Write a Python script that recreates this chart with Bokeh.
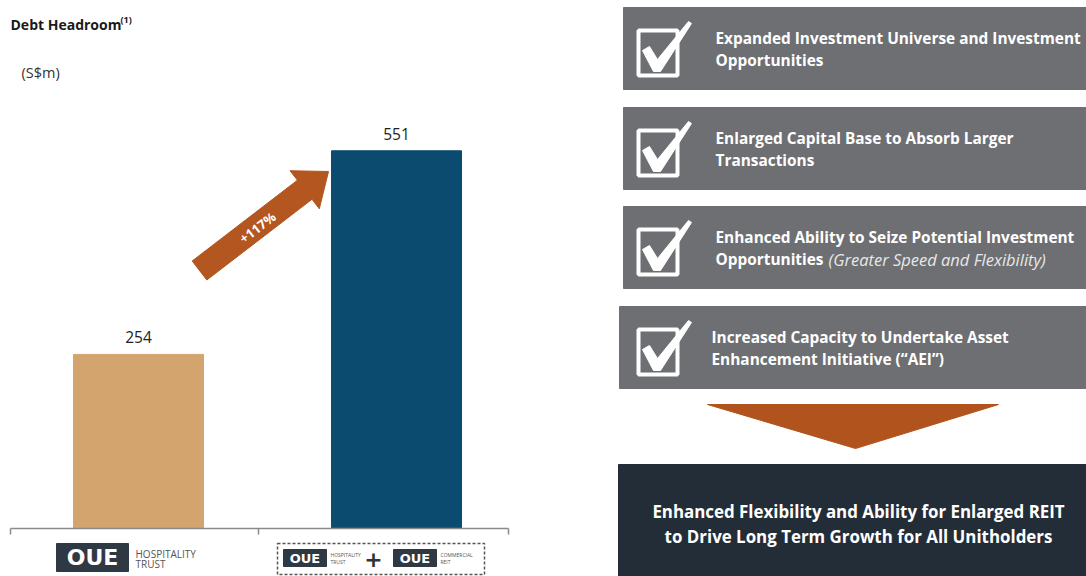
import math
from bokeh.plotting import figure
from bokeh.models import Range1d
from bokeh.core.properties import value
from bokeh.embed import file_html
from bokeh.resources import INLINE

# ---------------- data ----------------
categories = ["OUE Hospitality Trust", "OUE Hospitality Trust + OUE Commercial REIT"]
debt_headroom = [254, 551]
value_labels = ["254", "551"]
growth_label = "+117%"
chart_title = "Debt Headroom"
title_note = "(1)"
unit_label = "(S$m)"
benefit_line1 = [
    "Expanded Investment Universe and Investment",
    "Enlarged Capital Base to Absorb Larger",
    "Enhanced Ability to Seize Potential Investment",
    "Increased Capacity to Undertake Asset",
]
benefit_line2 = [
    "Opportunities",
    "Transactions",
    "Opportunities",
    "Enhancement Initiative (\u201cAEI\u201d)",
]
benefit_note = "(Greater Speed and Flexibility)"
conclusion = [
    "Enhanced Flexibility and Ability for Enlarged REIT",
    "to Drive Long Term Growth for All Unitholders",
]

FONT = value("Open Sans")
W, H = 1086, 576
PX_PER_VAL = 0.6855

p = figure(width=W, height=H, x_range=Range1d(0, W), y_range=Range1d(0, H),
           output_backend="svg", toolbar_location=None, x_axis_type=None,
           y_axis_type=None, min_border=0, outline_line_color=None,
           background_fill_color="white", border_fill_color="white")
p.extra_x_ranges = {"cat": Range1d(-9 / 258, (W - 9) / 258)}
p.extra_y_ranges = {"val": Range1d(-(H - 528) / PX_PER_VAL, 528 / PX_PER_VAL)}


def Y(ry):
    return H - ry


# ---------------- left: bar chart ----------------
p.text(x=[10], y=[Y(24)], text=[chart_title], text_font=FONT, text_font_size="14px",
       text_font_style="bold", text_color="#1a1a1a", text_baseline="middle")
p.text(x=[120], y=[Y(19)], text=[title_note], text_font=FONT, text_font_size="9px",
       text_font_style="bold", text_color="#1a1a1a", text_baseline="middle")
p.text(x=[21], y=[Y(72)], text=[unit_label], text_font=FONT, text_font_size="14.5px",
       text_color="#333333", text_baseline="middle")

xs = [i + 0.5 for i in range(len(categories))]
p.vbar(x=xs, top=debt_headroom, bottom=0, width=0.504,
       color=["#D4A46F", "#0B4B6F"], x_range_name="cat", y_range_name="val")
p.text(x=xs, y=debt_headroom, text=value_labels, text_font=FONT, text_font_size="15.5px",
       text_color="#222222", text_align="center", text_baseline="middle",
       y_offset=-17, x_range_name="cat", y_range_name="val")

# baseline with boundary ticks
p.segment(x0=[10], y0=[Y(528)], x1=[508], y1=[Y(528)], line_color="#8a8a8a", line_width=1.5)
p.segment(x0=[10, 258, 508], y0=[Y(528)] * 3, x1=[10, 258, 508], y1=[Y(534)] * 3,
          line_color="#8a8a8a", line_width=1.5)

# growth arrow
sx, sy = 199, 270
tx, ty = 328, 171
L = math.hypot(tx - sx, ty - sy)
dx, dy = (tx - sx) / L, (ty - sy) / L
nx, ny = -dy, dx
hw, hh, hl = 12, 24, 30
hx, hy = tx - hl * dx, ty - hl * dy
pts = [(sx + hw * nx, sy + hw * ny), (hx + hw * nx, hy + hw * ny), (hx + hh * nx, hy + hh * ny),
       (tx, ty), (hx - hh * nx, hy - hh * ny), (hx - hw * nx, hy - hw * ny),
       (sx - hw * nx, sy - hw * ny)]
p.patch([q[0] for q in pts], [Y(q[1]) for q in pts], color="#B4561F")
ang = math.atan2(-(ty - sy), tx - sx)
p.text(x=[257], y=[Y(227)], text=[growth_label], angle=ang, text_font=FONT,
       text_font_size="13px", text_font_style="bold", text_color="white",
       text_align="center", text_baseline="middle")

# logos under the axis
LOGO = "#2E3943"
p.quad(left=[56], right=[128], top=[Y(543)], bottom=[Y(571)], color=LOGO)
p.text(x=[92], y=[Y(557)], text=["OUE"], text_font=value("DejaVu Sans"), text_font_size="22px",
       text_font_style="bold", text_color="white", text_align="center", text_baseline="middle")
p.text(x=[135, 135], y=[Y(553), Y(563)], text=["HOSPITALITY", "TRUST"], text_font=FONT,
       text_font_size="10px", text_color="#555555", text_baseline="middle")

p.quad(left=[277], right=[484], top=[Y(543)], bottom=[Y(574)], fill_color=None,
       line_color="#555555", line_width=1.5, line_dash="3 2")
p.quad(left=[283, 393], right=[326, 436], top=[Y(549)] * 2, bottom=[Y(566)] * 2, color=LOGO)
p.text(x=[304.5, 414.5], y=[Y(558)] * 2, text=["OUE", "OUE"], text_font=value("DejaVu Sans"),
       text_font_size="13px", text_font_style="bold", text_color="white", text_align="center",
       text_baseline="middle")
p.text(x=[330, 330, 440, 440], y=[Y(554), Y(561), Y(554), Y(561)],
       text=["HOSPITALITY", "TRUST", "COMMERCIAL", "REIT"], text_font=FONT,
       text_font_size="5px", text_color="#555555", text_baseline="middle")
p.text(x=[373], y=[Y(558)], text=["+"], text_font=value("DejaVu Sans"), text_font_size="22px",
       text_font_style="bold", text_color="#333333", text_align="center", text_baseline="middle")

# ---------------- right: benefit boxes ----------------
GRAY = "#6D6F72"
box_top = [7, 107, 206, 306]
box_left = [623, 623, 623, 619]
box_h = 82
text_x = [715, 715, 715, 711]
for i in range(len(benefit_line1)):
    t = box_top[i]
    p.quad(left=[box_left[i]], right=[W + 5], top=[Y(t)], bottom=[Y(t + box_h)], color=GRAY)
    # checkbox
    qx, qy = 636, t + 21
    p.quad(left=[qx + 2], right=[qx + 41], top=[Y(qy + 2)], bottom=[Y(qy + 47)],
           fill_color=None, line_color="white", line_width=4)
    ck = [(6, 22), (13, 18), (21, 31), (52, -7), (55, -5), (24, 43), (17, 43)]
    p.patch([qx + c[0] for c in ck], [Y(qy + c[1]) for c in ck], color="white")
    p.text(x=[text_x[i], text_x[i]], y=[Y(t + 31), Y(t + 53)],
           text=[benefit_line1[i], benefit_line2[i]], text_font=FONT, text_font_size="15.4px",
           text_font_style="bold", text_color="white", text_baseline="middle")
p.text(x=[828], y=[Y(box_top[2] + 53)], text=[benefit_note], text_font=FONT,
       text_font_size="16.5px", text_font_style="italic", text_color="#E8E8E8",
       text_baseline="middle")

# down arrow
p.patch([707, 998, 855], [Y(404), Y(404), Y(448)], color="#B0531D")

# conclusion box
p.quad(left=[618], right=[W + 5], top=[Y(464)], bottom=[Y(H + 5)], color="#232D37")
p.text(x=[858, 858], y=[Y(511), Y(536)], text=conclusion, text_font=FONT,
       text_font_size="16.9px", text_font_style="bold", text_color="white",
       text_align="center", text_baseline="middle")

open("out.html", "w").write(file_html(p, INLINE))
